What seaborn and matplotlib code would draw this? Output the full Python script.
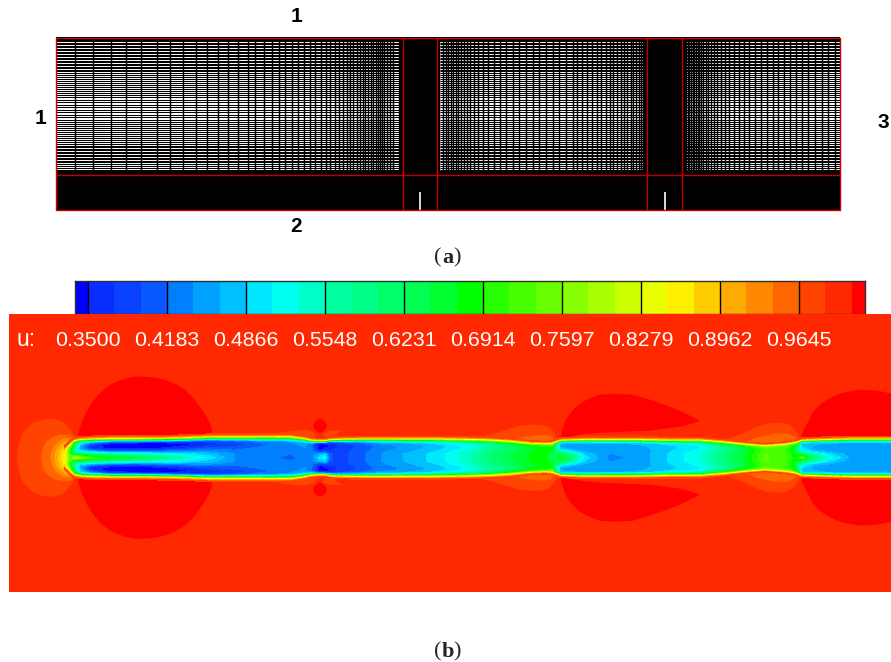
#!/usr/bin/env python3
# mesh of the domain (a) and u velocity contours (b)

import numpy as np
import matplotlib
matplotlib.use("Agg")
import matplotlib.pyplot as plt
from matplotlib.colors import ListedColormap
import seaborn as sns

#%%

# mesh lines

mesh_y = [41.5, 43, 44.5, 46, 47.5, 49, 50.5, 52, 53.5, 55, 56.5, 58, 59.5, 61, 62.5,
          64, 65.5, 67, 68.5, 70, 71.5, 73, 75, 77, 79, 81, 83, 85, 87, 89, 91, 93, 95,
          97.5, 100, 102.5, 105, 107.5, 110, 112.5, 115, 117.5, 120, 122, 124, 126,
          128, 130, 132, 134, 136, 138, 140, 142, 144, 146, 147.5, 149, 150.5, 152,
          153.5, 155, 156.5, 158, 159.5, 161, 162.5, 164, 166, 168, 170.5]
block1_x = [75, 92.7, 110.7, 126, 141, 156.7, 170, 182.7, 195.7, 206.7, 218, 228, 238,
            247.7, 255, 264, 271.7, 278.7, 285, 292, 298, 304, 310, 315, 320.7, 325.7,
            330, 334.7, 338.7, 342.7, 346.7, 350, 353, 356.7, 360, 362.7, 365, 368,
            370.7, 373, 376, 378, 380, 382, 384, 386.7, 390, 392.7, 398.7]
block2_x = [439.3, 443.3, 445.7, 448.3, 451, 453.3, 455.7, 458.3, 461, 464, 466.7, 470,
            474, 478.3, 483.3, 488.3, 494, 500, 506, 512.7, 519.3, 526, 532.7, 539.3,
            546, 552.7, 559.3, 566, 572.7, 577.3, 582.3, 586.7, 591.7, 596.7, 600.7,
            606, 610, 613.3, 617.3, 620.7, 624, 627.3, 630.7, 633.3, 636, 638.7, 641.3,
            643.3]
block3_x = [686, 687.7, 689.3, 691, 692.7, 694.3, 696, 697.7, 699.3, 701, 703.3, 705.7,
            708.3, 711, 714, 717.3, 721, 725, 729.3, 734, 739, 744, 749.3, 755, 760.7,
            766.7, 772.7, 778.3, 784, 790, 796, 802, 808.3, 815, 821.7, 828.3, 835]
red_x = [403, 437.5, 647, 682]
side_labels = [("1", 296, 17), ("1", 40, 119), ("2", 296, 227), ("3", 883, 122)]

#%%

# colour levels of the contour plot

levels = [0.35, 0.3728, 0.3955, 0.4183, 0.441, 0.4638, 0.4866, 0.5093, 0.5321, 0.5548,
          0.5776, 0.6003, 0.6231, 0.6459, 0.6686, 0.6914, 0.7142, 0.7369, 0.7597,
          0.7825, 0.8052, 0.8279, 0.8507, 0.8735, 0.8962, 0.919, 0.9417, 0.9645, 0.9873,
          1.01]
band_colors = ["#0000ff", "#0a2dff", "#0a40ff", "#0a58ff", "#0080ff", "#00a0ff", "#00c0ff",
               "#00e8ff", "#00fff0", "#00ffc8", "#00ffa0", "#00ff88", "#00ff6a", "#00ff50",
               "#00ff30", "#00ff00", "#28ff00", "#48ff00", "#68ff00", "#88ff00", "#aaff00",
               "#ccff00", "#eaff00", "#fff000", "#ffcc00", "#ffaa00", "#ff8800", "#ff6600",
               "#ff4400", "#ff2800", "#ff0000"]
tick_labels = ["0.3500", "0.4183", "0.4866", "0.5548", "0.6231", "0.6914", "0.7597",
               "0.8279", "0.8962", "0.9645"]
tick_x = [88, 167, 246, 325, 404, 483, 562, 641, 720, 799]

#%%

# u inside the jet: stations along x, half width of the jet, and values from
# the centre line (eta = 0) out across the shear layer

jet_eta = [0, 0.2, 0.35, 0.5, 0.65, 0.78, 0.88, 0.95, 1.03, 1.15]
jet_x = [64, 70, 74, 80, 90, 110, 130, 150, 180, 210, 235, 260, 290, 305, 312, 320, 325, 330,
         340, 360, 380, 410, 440, 470, 490, 510, 530, 545, 552, 560, 570, 585, 610, 640,
         670, 700, 725, 745, 765, 785, 795, 802, 815, 830, 850, 891]
jet_half = [10, 15, 18, 18.5, 19, 19.5, 19.5, 19.5, 20, 21, 21, 21, 21, 19, 17.5, 17, 17, 18,
            18.5, 19, 19, 19, 19, 18.5, 18, 17, 15, 14.5, 15, 17.5, 18, 18.5, 18.5, 18.5,
            18, 18, 16, 14, 12.5, 14, 15.5, 17.5, 18, 18.5, 19, 19]
jet_u = [
    [.86, .86, .86, .86, .87, .88, .90, .92, .95, 1.0],
    [.72, .72, .70, .70, .72, .76, .80, .85, .92, 1.0],
    [.82, .62, .55, .60, .62, .65, .70, .80, .93, 1.0],
    [.78, .62, .50, .45, .47, .50, .60, .72, .88, 1.0],
    [.72, .58, .46, .37, .38, .44, .55, .72, .88, 1.0],
    [.68, .55, .40, .34, .33, .37, .52, .72, .88, 1.0],
    [.66, .53, .39, .33, .33, .36, .52, .72, .88, 1.0],
    [.62, .52, .40, .34, .33, .35, .50, .70, .88, 1.0],
    [.56, .50, .42, .36, .34, .36, .50, .70, .88, 1.0],
    [.50, .47, .43, .39, .36, .38, .50, .70, .88, 1.0],
    [.44, .44, .42, .40, .38, .40, .52, .72, .88, 1.0],
    [.43, .43, .43, .42, .41, .43, .53, .70, .88, 1.0],
    [.41, .42, .42, .43, .43, .45, .55, .70, .86, 1.0],
    [.43, .43, .44, .44, .45, .46, .52, .68, .85, 1.0],
    [.43, .43, .42, .42, .41, .42, .50, .70, .85, 1.0],
    [.50, .47, .38, .34, .33, .33, .38, .60, .85, 1.0],
    [.52, .48, .40, .36, .34, .34, .38, .60, .85, 1.0],
    [.40, .40, .38, .36, .35, .36, .42, .62, .85, 1.0],
    [.385, .385, .385, .38, .38, .39, .46, .66, .86, 1.0],
    [.41, .41, .405, .40, .40, .42, .50, .70, .88, 1.0],
    [.44, .44, .435, .43, .43, .45, .53, .70, .88, 1.0],
    [.47, .47, .46, .45, .45, .47, .56, .72, .88, 1.0],
    [.50, .50, .49, .48, .48, .50, .58, .74, .88, 1.0],
    [.55, .55, .54, .52, .52, .54, .61, .74, .87, 1.0],
    [.60, .60, .59, .57, .56, .58, .64, .76, .87, 1.0],
    [.64, .64, .63, .61, .61, .63, .68, .78, .88, 1.0],
    [.67, .67, .67, .66, .66, .67, .70, .78, .88, 1.0],
    [.68, .68, .68, .68, .68, .69, .72, .78, .88, 1.0],
    [.62, .64, .66, .66, .68, .70, .74, .80, .88, 1.0],
    [.66, .64, .58, .48, .46, .47, .50, .68, .86, 1.0],
    [.62, .58, .50, .46, .45, .46, .51, .68, .87, 1.0],
    [.50, .48, .46, .45, .45, .46, .53, .70, .87, 1.0],
    [.43, .44, .45, .45, .45, .46, .54, .71, .88, 1.0],
    [.45, .45, .45, .455, .46, .47, .56, .72, .88, 1.0],
    [.49, .49, .485, .48, .48, .50, .58, .74, .88, 1.0],
    [.53, .53, .52, .51, .51, .53, .60, .74, .88, 1.0],
    [.60, .60, .59, .58, .58, .60, .65, .76, .87, 1.0],
    [.66, .66, .65, .65, .65, .66, .70, .78, .87, 1.0],
    [.74, .74, .73, .73, .73, .74, .76, .80, .87, 1.0],
    [.72, .72, .72, .72, .72, .73, .75, .80, .87, 1.0],
    [.68, .67, .66, .66, .66, .67, .70, .78, .87, 1.0],
    [.74, .62, .52, .50, .48, .48, .50, .66, .86, 1.0],
    [.60, .55, .48, .45, .46, .47, .50, .68, .87, 1.0],
    [.52, .49, .46, .45, .45, .46, .52, .70, .88, 1.0],
    [.46, .45, .45, .45, .45, .46, .53, .70, .88, 1.0],
    [.45, .45, .45, .45, .45, .46, .53, .70, .88, 1.0],
]

#%%

# regions outside the jet: outlines as x, distance from the centre line

center_y = 457.7
regions = [
    # red bubbles
    ("#ff0000", [77, 79, 82, 86, 90, 95, 100, 105, 110, 117, 125, 135, 145, 155, 165, 175, 185,
                 193, 200, 206, 210, 212, 212],
     [18, 27, 36, 45, 52, 59, 65, 69, 73, 76, 79, 81, 81, 80, 78, 74, 68, 60, 51, 42, 34, 28, 18]),
    ("#ff0000", [560, 563, 566, 570, 576, 583, 591, 600, 615, 633, 650, 667, 680, 692, 700, 692,
                 680, 665, 650, 625, 600, 580, 560],
     [19, 30, 38, 44, 51, 56, 60, 63, 64, 63, 58, 52, 47, 41, 37, 34, 31, 29, 27, 26, 25, 23, 19]),
    ("#ff0000", [800, 803, 807, 813, 820, 827, 835, 843, 860, 875, 883, 891, 891, 800],
     [18, 26, 34, 46, 53, 58, 62, 65, 68, 67, 66, 64, 20, 18]),
    ("#ff0000", [313, 314, 316, 318, 320, 322, 324, 326, 327, 326, 324, 322, 320, 318, 316, 314],
     [32, 35, 37, 38.5, 39, 38.5, 37, 35, 32, 29, 27, 25.5, 25, 25.5, 27, 29]),
    # orange halos
    ("#ff4400", [322, 330, 342, 335, 325], [25, 27, 27.5, 22, 20]),
    ("#ff4400", [240, 265, 285, 298, 308, 314, 316, 316], [21, 23, 26, 27.5, 27.5, 25, 22, 17]),
    ("#ff4400", [477, 497, 510, 520, 530, 540, 548, 553, 556, 557, 557, 477],
     [20, 25, 29, 32, 33, 33, 31, 27, 22, 17, 14, 14]),
    ("#ff6600", [513, 525, 540, 550, 555, 555, 513], [18, 21, 23, 22, 18, 14, 14]),
    ("#ff4400", [723, 745, 757, 767, 778, 787, 793, 798, 800, 800, 723],
     [17, 25, 31, 34, 35, 34, 30, 24, 19, 12, 12]),
    ("#ff6600", [745, 760, 775, 788, 796, 798, 798, 745], [16, 21, 24, 24, 20, 17, 12, 12]),
    # bands in front of the nozzle
    ("#ff4400", [17, 18, 20, 24, 28, 32, 37, 42, 47, 52, 57, 62, 66, 70, 74, 77, 77],
     [0, 9, 18, 26, 30, 34, 36, 38, 39, 39, 38, 36, 33, 28, 23, 18, 0]),
    ("#ff6600", [41, 43, 47, 53, 60, 70, 76, 76], [0, 10, 17, 21, 23, 23, 19, 0]),
    ("#ff8800", [50, 52, 56, 62, 70, 75, 75], [0, 8, 14, 19, 20, 18, 0]),
    ("#ffaa00", [54, 56, 60, 66, 74, 74], [0, 8, 13, 17, 18, 0]),
    ("#ffcc00", [58, 60, 64, 70, 74, 74], [0, 8, 12, 16, 17, 0]),
    ("#fff000", [61, 63, 67, 72, 74], [0, 7, 12, 16, 0]),
    ("#ccff00", [64, 66, 69, 72, 74], [0, 7, 12, 15, 0]),
]

#%%

sns.set_theme(style="white")

W, H = 891, 662
fig = plt.figure(figsize=(W/100, H/100), dpi=100, facecolor="white")

def pixel_axes(x0, y0, x1, y1):
    return fig.add_axes([x0/W, 1 - y1/H, (x1 - x0)/W, (y1 - y0)/H])

#%%

# (a) the mesh

ax1 = pixel_axes(56, 37, 840, 211)
ax1.set_xlim(56, 840)
ax1.set_ylim(211, 37)
ax1.axis("off")

blocks = [(56, 399, block1_x), (440, 644, block2_x), (686, 840, block3_x)]
for x0, x1, xs in blocks:
    ax1.hlines(mesh_y, x0, x1, color="black", lw=0.75)
    ax1.vlines(xs, 41, 171, color="black", lw=1.05)

ax1.fill_between([56, 840], 37, 41.5, color="black", lw=0)
ax1.fill_between([56, 840], 171, 211, color="black", lw=0)
ax1.fill_between([399, 440], 37, 211, color="black", lw=0)
ax1.fill_between([644, 686], 37, 211, color="black", lw=0)

ax1.vlines([420.5, 665.5], 192, 210, color="white", lw=1.2)
ax1.vlines(red_x, 38, 210, color="#c00000", lw=1)
ax1.hlines(175, 56, 840, color="#c00000", lw=1)
ax1.plot([56, 840, 840, 56, 56], [38, 38, 210, 210, 38], color="#d00000", lw=1,
         clip_on=False)

for text, x, y in side_labels:
    fig.text(x/W, 1 - y/H, text, fontsize=15, fontweight="bold", family="Liberation Sans",
             ha="center", va="center", color="black")

#%%

# colour bar, half width cells so the two end bands come out narrow

cells = np.repeat(np.arange(31), [1] + [2]*29 + [1]).reshape(1, -1)
ax2 = pixel_axes(75, 281, 865, 314)
sns.heatmap(cells, ax=ax2, cmap=ListedColormap(band_colors), vmin=-0.5, vmax=30.5,
            cbar=False, xticklabels=False, yticklabels=False)
ax2.set_xlim(75, 865)
for mesh in ax2.collections:
    mesh.set_transform(matplotlib.transforms.Affine2D().scale(790/60, 1).translate(75, 0)
                       + ax2.transData)
ax2.vlines(tick_x, 0, 1, color="black", lw=1)
for side in ax2.spines.values():
    side.set_visible(True)
    side.set_color("#303030")
    side.set_linewidth(1)

#%%

# (b) the contours

ax3 = pixel_axes(9, 314, 891, 592)
ax3.set_xlim(9, 891)
ax3.set_ylim(592, 314)
ax3.axis("off")
ax3.fill_between([9, 891], 314, 592, color=band_colors[29], lw=0)

for color, xs, offs in regions:
    xs = np.array(xs)
    offs = np.array(offs)
    ax3.fill(xs, center_y - offs, color=color, lw=0)
    ax3.fill(xs, center_y + offs, color=color, lw=0)

eta = np.array(jet_eta)
u = np.array(jet_u)
half = np.array(jet_half)
eta_all = np.concatenate([-eta[:0:-1], eta])
u_all = np.hstack([u[:, :0:-1], u])
xx = np.repeat(np.array(jet_x)[:, None], len(eta_all), axis=1)
yy = center_y + half[:, None]*eta_all[None, :]
ax3.contourf(xx, yy, u_all, levels=levels[:-1], colors=band_colors[:29], extend="min")

ax3.text(16, 340, "u:", color="white", fontsize=16.5, family="Liberation Sans",
         ha="left", va="center")
for text, x in zip(tick_labels, tick_x):
    ax3.text(x, 341, text, color="white", fontsize=15.4, family="Liberation Sans",
             ha="center", va="center")

#%%

# panel letters, upright brackets with a bold letter

for letter, y in [("a", 258), ("b", 652)]:
    fig.text(434/W, 1 - y/H, "(", fontsize=16, family="Liberation Serif", va="center")
    fig.text(442/W, 1 - y/H, letter, fontsize=16, family="Liberation Serif",
             fontweight="bold", va="center")
    fig.text(453.5/W, 1 - y/H, ")", fontsize=16, family="Liberation Serif", va="center")

fig.savefig("out.png", dpi=100)
